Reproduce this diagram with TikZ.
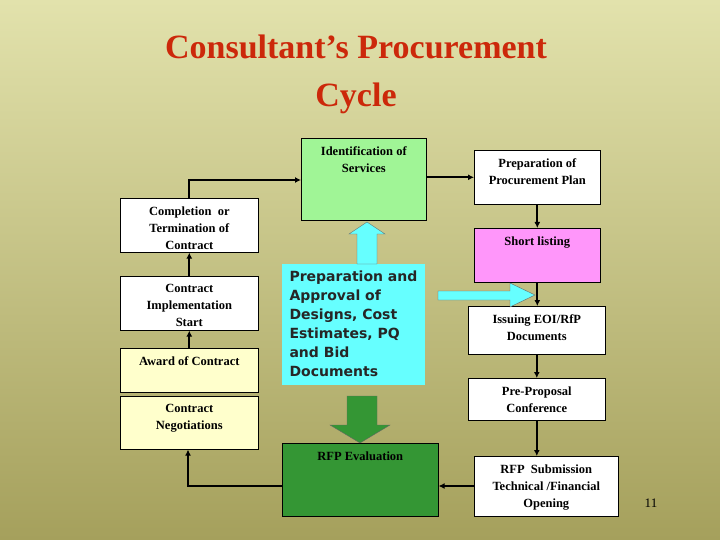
\documentclass[tikz,border=0pt]{standalone}
\usepackage{fontspec}
\setmainfont{Liberation Serif}
\newfontfamily\tahoma{DejaVu Sans}
\usetikzlibrary{arrows.meta,shapes.arrows}
\definecolor{bgtop}{RGB}{226,226,172}
\definecolor{bgbot}{RGB}{165,160,92}
\definecolor{idgreen}{RGB}{160,245,150}
\definecolor{evgreen}{RGB}{52,150,52}
\definecolor{pinkbox}{RGB}{255,150,250}
\definecolor{cyanbox}{RGB}{102,255,255}
\definecolor{yelbox}{RGB}{255,255,204}
\definecolor{titlered}{RGB}{204,40,10}
\tikzset{
  box/.style={draw=black, line width=0.6pt, inner sep=0pt, align=center, font=\fontsize{12.5}{16}\selectfont\bfseries},
  conn/.style={line width=2.2pt, -{Latex[length=6pt,width=6pt]}},
}
\newcommand{\bx}[7]{% name, x1,y1,x2,y2, fill, text (top aligned)
  \node[box, fill=#6, minimum width=#4pt-#2pt, minimum height=#5pt-#3pt, anchor=north west] (#1) at (#2,#3) {};
  \node[align=center, font=\fontsize{12.5}{17}\selectfont\bfseries, anchor=north, yshift=-5pt] at (#1.north) {#7};
}
\begin{document}
\begin{tikzpicture}[x=1pt,y=-1pt]
\shade[top color=bgtop, bottom color=bgbot] (0,0) rectangle (720,540);
\useasboundingbox (0,0) rectangle (720,540);
\node[font=\fontsize{34}{48}\selectfont\bfseries, text=titlered, align=center] (title) at (356,74) {Consultant’s Procurement\\Cycle};
% boxes
\bx{ident}{301}{138}{426}{220}{idgreen}{Identification of\\Services}
\bx{plan}{474}{150}{600}{204}{white}{Preparation of\\Procurement Plan}
\bx{short}{474}{228}{600}{282}{pinkbox}{Short listing}
\bx{issue}{468}{306}{605}{354}{white}{Issuing EOI/RfP\\Documents}
\bx{pre}{468}{378}{605}{420}{white}{Pre-Proposal\\Conference}
\bx{sub}{474}{456}{618}{516}{white}{RFP\ \ Submission\\Technical /Financial\\Opening}
\bx{eval}{282}{443}{438}{516}{evgreen}{RFP Evaluation}
\bx{compl}{120}{198}{258}{252}{white}{Completion\ \ or\\Termination of\\Contract}
\bx{impl}{120}{276}{258}{330}{white}{Contract\\Implementation\\Start}
\bx{award}{120}{348}{258}{392}{yelbox}{Award of Contract}
\bx{nego}{120}{396}{258}{449}{yelbox}{Contract\\Negotiations}
% cyan prep box
\node[fill=cyanbox, minimum width=143pt, minimum height=121pt, anchor=north west, inner sep=0pt] (prep) at (282,264) {};
\node[anchor=north west, align=left, font=\tahoma\fontsize{14}{19}\selectfont\bfseries, text=black!85] at (286,267) {Preparation and\\Approval of\\Designs, Cost\\Estimates, PQ\\and Bid\\Documents};
% block arrows
\fill[cyanbox, draw=black!60, line width=0.4pt] (357,264) -- (357,234) -- (349,234) -- (367,222) -- (385,234) -- (377,234) -- (377,264) -- cycle;
\fill[cyanbox, draw=black!60, line width=0.4pt] (438,291) -- (510,291) -- (510,283) -- (535,295) -- (510,307) -- (510,300) -- (438,300) -- cycle;
\fill[evgreen, draw=black!60, line width=0.4pt] (347,396) -- (377,396) -- (377,425) -- (390,425) -- (360,443) -- (330,425) -- (347,425) -- cycle;
% connectors
\coordinate (c1) at (189,180);
\draw[conn] (compl.north -| c1) -- (c1) -- (ident.west |- c1);
\draw[conn] (ident.east |- plan.west) -- (plan.west);
\draw[conn] (plan.south) -- (short.north);
\draw[conn] (short.south) -- (short.south |- issue.north);
\draw[conn] (issue.south) -- (issue.south |- pre.north);
\draw[conn] (pre.south) -- (pre.south |- sub.north);
\draw[conn] (sub.west |- 0,486) -- (eval.east |- 0,486);
\coordinate (c2) at (188,486);
\draw[conn] (eval.west |- c2) -- (c2) -- (c2 |- nego.south);
\draw[conn] (award.north) -- (impl.south);
\draw[conn] (impl.north) -- (compl.south);
\node[font=\fontsize{13}{15}\selectfont] (pg) at (651,503) {11};
\end{tikzpicture}
\end{document}
